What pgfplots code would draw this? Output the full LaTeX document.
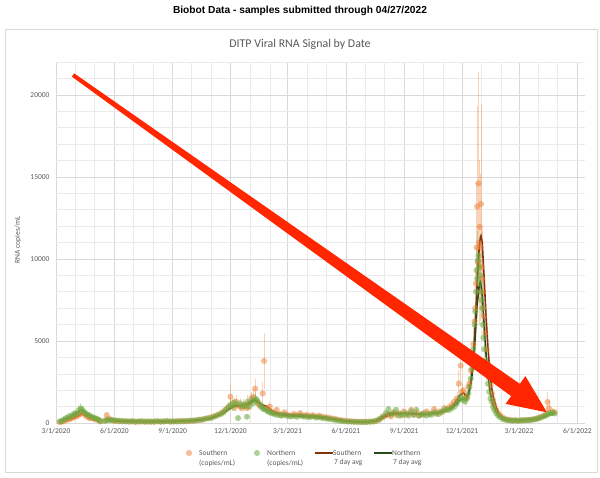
\documentclass[border=0pt]{standalone}
\usepackage{fontspec}
\setmainfont{Carlito}
\newfontfamily\helv{Liberation Sans}
\usepackage{pgfplots}
\pgfplotsset{compat=1.18}
\usepackage{pgfplotstable}
\definecolor{sorange}{RGB}{237,125,49}
\definecolor{ngreen}{RGB}{112,173,71}
\definecolor{savg}{RGB}{132,50,10}
\definecolor{navg}{RGB}{40,75,25}
\definecolor{txtgray}{RGB}{89,89,89}
\definecolor{gridc}{RGB}{217,217,217}
\definecolor{arrowred}{RGB}{255,38,0}

\pgfplotstableread{
d S Se N Ne
6 60 0 90 0
9 80 0 120 20
12 120 0 200 50
15 170 30 280 80
18 210 0 320 60
21 230 40 420 150
24 290 0 380 0
27 330 60 520 200
30 380 0 600 150
33 420 80 560 0
36 500 100 780 250
39 560 0 900 300
41 640 120 820 200
43 600 0 700 0
46 480 80 620 100
49 380 0 520 0
52 320 60 480 120
55 280 0 400 0
58 300 50 350 60
61 240 0 300 0
64 220 40 260 0
67 180 0 200 0
70 120 0 100 0
77 150 0 120 0
80 480 150 180 0
83 260 0 160 0
87 180 0 200 0
91 140 0 160 0
95 120 0 150 0
100 110 0 140 0
105 90 0 120 0
110 100 0 110 0
115 80 0 100 0
120 90 0 120 0
125 70 0 90 0
130 80 0 100 0
135 90 0 110 0
140 70 0 90 0
145 80 0 100 0
150 90 0 80 0
155 70 0 100 0
160 100 0 110 0
165 80 0 90 0
170 90 0 100 0
175 110 0 120 0
180 80 0 100 0
185 100 0 90 0
190 90 0 110 0
195 120 0 100 0
200 100 0 130 0
205 110 0 120 0
210 130 0 140 0
215 120 0 160 0
220 160 0 150 0
225 180 0 200 0
230 220 0 190 0
235 250 0 260 0
240 300 50 280 0
245 350 0 320 0
250 420 80 400 0
255 500 0 480 100
260 600 100 550 0
264 700 0 650 150
268 850 150 800 0
272 1000 0 950 200
275 1600 700 1100 300
278 1200 300 1000 0
281 900 0 1250 300
284 1300 400 1150 0
287 1100 0 300 100
290 1000 200 1200 300
293 900 0 1050 0
296 1150 300 1000 100
299 1050 0 1100 200
301 900 0 380 100
302 1000 200 1300 400
305 1200 0 1000 0
308 1500 400 1350 300
311 1600 500 1200 0
314 2100 600 1500 400
317 1300 0 1400 200
320 1100 300 1200 0
323 1000 0 1050 0
326 1800 700 900 200
328 3780 1700 850 0
331 900 0 800 100
334 800 200 700 0
337 1000 300 650 0
340 700 0 600 0
344 600 100 550 0
348 800 200 500 0
352 550 0 480 0
356 500 0 450 0
360 650 150 500 0
365 500 0 420 0
370 450 0 400 0
375 550 100 420 0
380 480 0 380 0
385 600 150 450 0
390 450 0 400 0
395 500 100 380 0
400 420 0 350 0
405 480 0 400 0
410 400 0 330 0
415 450 80 350 0
420 380 0 300 0
425 350 0 280 0
430 320 0 250 0
435 280 0 220 0
440 250 0 180 0
445 200 0 150 0
450 170 0 120 0
455 140 0 100 0
460 120 0 90 0
465 100 0 80 0
470 90 0 70 0
475 80 0 70 0
480 70 0 60 0
485 80 0 60 0
490 70 0 70 0
495 90 0 80 0
500 100 0 90 0
505 130 0 150 0
510 200 0 250 0
515 350 80 400 100
520 450 0 600 150
524 550 100 850 200
528 400 0 500 0
532 650 150 600 100
536 500 0 800 200
540 600 100 450 0
544 450 0 550 0
548 700 150 500 0
552 500 0 600 100
556 550 0 450 0
560 800 200 700 150
564 500 0 500 0
568 650 100 800 200
572 450 0 450 0
576 550 0 500 0
580 500 0 600 0
584 700 150 450 0
588 550 0 550 0
592 600 0 500 0
596 850 200 650 100
600 550 0 600 0
604 700 100 550 0
608 650 0 700 0
612 900 200 750 100
616 800 0 850 0
620 950 200 800 0
624 1100 300 900 100
628 1300 300 1000 0
632 1500 400 1200 200
635 2400 800 1400 300
638 3500 1200 1600 0
640 1900 500 1500 200
642 2000 0 1400 0
645 1500 400 1300 100
648 1600 0 1500 0
650 2200 600 1800 300
652 2400 0 2200 0
654 3200 1000 2700 400
656 4000 0 3300 0
658 4800 1500 4500 600
660 6200 0 6000 800
661 7000 2500 6800 0
662 8500 0 8000 1200
663 10700 4000 9300 1500
664 13200 6100 8800 0
665 9800 0 9900 1800
666 14600 6800 10200 0
667 11000 5000 9500 1500
668 11950 0 8500 0
669 10700 4500 9000 1000
670 13350 6100 8000 0
671 9500 0 7500 1000
672 8800 3000 7000 0
673 8000 0 6000 800
674 7000 2000 5200 0
675 6500 0 4500 500
677 5500 1500 3800 0
679 4500 0 3000 400
681 3600 1000 2400 0
683 2800 0 1900 300
685 2300 600 1500 0
687 1800 0 1300 200
689 1400 400 1000 0
691 1100 0 800 0
694 800 200 600 0
697 600 0 450 0
700 450 0 350 0
704 350 0 250 0
708 250 0 200 0
712 200 0 180 0
716 180 0 150 0
720 150 0 140 0
724 170 0 160 0
728 140 0 130 0
732 160 0 150 0
736 150 0 170 0
740 180 0 160 0
744 170 0 180 0
748 200 0 190 0
752 220 0 210 0
756 250 0 240 0
760 300 0 280 0
764 350 0 330 0
768 420 0 400 0
772 500 0 450 0
775 1280 600 520 0
777 900 500 580 0
780 600 0 600 100
783 700 150 620 0
786 650 0 580 0
}\scatterdata

\pgfplotstableread{
d S N
8 80 100
15 160 250
22 240 380
29 350 540
36 470 700
41 580 800
46 480 650
52 340 500
58 270 380
64 220 270
70 140 120
75 nan nan
80 230 170
88 180 170
100 110 140
120 90 100
150 85 95
180 90 100
200 105 120
215 130 150
230 200 200
245 320 310
260 550 520
270 800 780
280 1050 1000
290 1050 1050
300 1100 1150
307 1200 1300
312 1350 1400
314 1450 1350
320 1250 1200
326 1100 950
333 1000 780
340 750 620
350 600 520
365 520 440
380 500 420
395 470 380
410 430 340
425 360 280
440 250 200
455 140 110
470 90 75
490 80 65
505 130 150
515 300 380
525 480 600
540 560 600
560 580 560
580 560 520
600 620 600
615 780 760
625 1050 930
632 1400 1200
637 1700 1450
642 1850 1450
647 1600 1400
651 1900 1800
655 2800 2600
658 4000 3600
661 6000 5300
664 8500 7200
667 10600 8300
669 11300 8600
670 11400 8500
672 11000 7800
675 8800 6000
678 6500 4200
681 4600 2900
684 3100 2000
687 2100 1400
690 1500 1000
694 950 700
698 620 450
703 380 280
710 220 190
725 160 150
740 170 170
755 240 230
765 330 320
775 480 470
786 620 580
}\avgdata

\begin{document}
\begin{tikzpicture}[x=1pt,y=1pt]
\path (0,0) rectangle (600,478);
\draw[gridc, line width=0.8pt] (5,6) rectangle (597,449);
\node[font=\helv\bfseries\fontsize{10.2}{12}\selectfont] at (300,467) {Biobot Data - samples submitted through 04/27/2022};
\node[font=\fontsize{11.9}{14}\selectfont, text=txtgray] at (300,434) {DITP Viral RNA Signal by Date};
\node[font=\fontsize{7.5}{9}\selectfont, text=txtgray, rotate=90] at (18,238) {RNA copies/mL};
\begin{axis}[
  at={(56pt,55pt)}, anchor=south west, scale only axis,
  width=529pt, height=361pt,
  xmin=0, xmax=834, ymin=0, ymax=22000,
  axis line style={draw=none},
  scaled y ticks=false,
  xtick={0,92,184,275,365,457,549,640,730,822},
  xticklabels={3/1/2020,6/1/2020,9/1/2020,12/1/2020,3/1/2021,6/1/2021,9/1/2021,12/1/2021,3/1/2022,6/1/2022},
  minor xtick={31,61,122,153,214,245,306,337,396,426,487,518,579,610,671,702,761,791},
  ytick={0,5000,10000,15000,20000},
  minor ytick={1000,2000,3000,4000,6000,7000,8000,9000,11000,12000,13000,14000,16000,17000,18000,19000,21000,22000},
  grid=both,
  major grid style={draw=gridc, line width=0.6pt},
  minor grid style={draw=gridc!55, line width=0.5pt},
  major tick length=0pt, minor tick length=0pt,
  ticklabel style={font=\fontsize{7.5}{9}\selectfont, text=txtgray},
  yticklabel style={/pgf/number format/1000 sep={}, /pgf/number format/assume math mode=true, xshift=-3pt},
  xticklabel style={yshift=-2pt},
  unbounded coords=jump,
]
\addplot[color=sorange, only marks, mark=*, mark size=3.1pt, mark options={draw opacity=0, fill opacity=0.5},
  error bars/.cd, y dir=both, y explicit, error mark=none,
  error bar style={draw=sorange, draw opacity=0.35, line width=0.7pt}]
  table[x=d, y=S, y error=Se] {\scatterdata};
\addplot[color=ngreen, only marks, mark=*, mark size=3.1pt, mark options={draw opacity=0, fill opacity=0.55},
  error bars/.cd, y dir=both, y explicit, error mark=none,
  error bar style={draw=ngreen, draw opacity=0.35, line width=0.7pt}]
  table[x=d, y=N, y error=Ne] {\scatterdata};
\addplot[savg, line width=1.6pt, no marks] table[x=d, y=S] {\avgdata};
\addplot[navg, line width=1.6pt, no marks] table[x=d, y=N] {\avgdata};
\end{axis}
% legend
\begin{scope}[every node/.style={font=\fontsize{7.5}{9}\selectfont, text=txtgray, anchor=west, inner sep=0pt}]
\fill[sorange, fill opacity=0.5] (189,25) circle (3.1);
\node at (199,25) {Southern};
\node at (199,15) {(copies/mL)};
\fill[ngreen, fill opacity=0.55] (257,25) circle (3.1);
\node at (267,25) {Northern};
\node at (267,15) {(copies/mL)};
\draw[savg, line width=1.6pt] (315,25) -- (333,25);
\node at (333,25) {Southern};
\node at (334,15) {7 day avg};
\draw[navg, line width=1.6pt] (374,25) -- (392,25);
\node at (392,25) {Northern};
\node at (393,15) {7 day avg};
\end{scope}
% red arrow annotation
\fill[arrowred] (74.16,404.63) -- (519.85,94.11) -- (525.4,101.9) -- (547,65.6) -- (505.6,74.1) -- (511.15,81.89) -- (71.84,401.37) -- cycle;
\end{tikzpicture}
\end{document}
